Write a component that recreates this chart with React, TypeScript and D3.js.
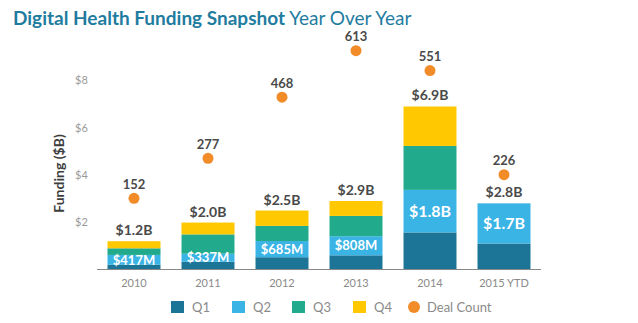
import React from "react";
import * as d3 from "d3";

const years = ["2010", "2011", "2012", "2013", "2014", "2015 YTD"];
const q1 = [0.2, 0.33, 0.52, 0.6, 1.57, 1.1];
const q2 = [0.417, 0.337, 0.685, 0.808, 1.8, 1.7];
const q3 = [0.28, 0.82, 0.64, 0.86, 1.86, 0];
const q4 = [0.3, 0.5, 0.65, 0.63, 1.67, 0];
const totalLabels = ["$1.2B", "$2.0B", "$2.5B", "$2.9B", "$6.9B", "$2.8B"];
const q2Labels = ["$417M", "$337M", "$685M", "$808M", "$1.8B", "$1.7B"];
const dealCounts = [152, 277, 468, 613, 551, 226];
const yTicks = [2, 4, 6, 8];
const seriesNames = ["Q1", "Q2", "Q3", "Q4"];
const colors = ["#1c7597", "#3ab3e5", "#21ab8c", "#ffc800"];
const orange = "#f28c28";

export default function App() {
  const W = 638, H = 323;
  const x = d3.scaleBand<string>().domain(years).range([89, 533]).paddingInner(0.284).paddingOuter(0.142);
  const y = d3.scaleLinear().domain([0, 8]).range([261.5, 72.5]);
  const yd = d3.scaleLinear().domain([0, 613]).range([239, 42.7]);
  const table = years.map((yr, i) => ({ yr, Q1: q1[i], Q2: q2[i], Q3: q3[i], Q4: q4[i] }));
  const stacked = d3.stack<any>().keys(seriesNames)(table);
  const font = "Lato, 'Open Sans', sans-serif";
  const legendItems = [
    { label: "Q1", x: 163, color: colors[0] },
    { label: "Q2", x: 224, color: colors[1] },
    { label: "Q3", x: 284, color: colors[2] },
    { label: "Q4", x: 345, color: colors[3] },
  ];
  return (
    <svg width={W} height={H} style={{ position: "absolute", left: 0, top: 0 }} fontFamily={font}>
      <g transform="translate(8,8)">
        <text x={5} y={17} fontSize={19} fill="#1f7ca0">
          <tspan fontWeight="bold">Digital Health Funding Snapshot</tspan>
          <tspan> Year Over Year</tspan>
        </text>
        <text transform={`translate(56,${165.5}) rotate(-90)`} textAnchor="middle" fontSize={14} fontWeight="bold" fill="#3d3d3d">
          Funding ($B)
        </text>
        {yTicks.map((t) => (
          <text key={t} x={67} y={y(t)} dy="0.35em" fontSize={11} fill="#9a9a9a">${t}</text>
        ))}
        {stacked.map((s, si) => (
          <g key={s.key}>
            {s.map((d, i) => (
              d[1] - d[0] > 0 ? (
                <rect key={i} x={x(years[i])} width={x.bandwidth()} y={y(d[1])} height={y(d[0]) - y(d[1])} fill={colors[si]} />
              ) : null
            ))}
          </g>
        ))}
        <line x1={89} x2={533} y1={261.5} y2={261.5} stroke="#888" strokeWidth={1} />
        {years.map((yr, i) => {
          const cx = (x(yr) as number) + x.bandwidth() / 2;
          const top = stacked[3][i][1];
          const q2mid = (stacked[1][i][0] + stacked[1][i][1]) / 2;
          return (
            <g key={yr}>
              <text x={cx} y={y(top) - 6} textAnchor="middle" fontSize={14} fontWeight="bold" fill="#4a4a4a">{totalLabels[i]}</text>
              <text x={cx} y={y(q2mid)} dy="0.36em" textAnchor="middle" fontSize={i >= 4 ? 16 : 13} fontWeight="bold" fill="#fff">{q2Labels[i]}</text>
              <circle cx={cx} cy={yd(dealCounts[i])} r={5.5} fill={orange} />
              <text x={cx} y={yd(dealCounts[i]) - 9.5} textAnchor="middle" fontSize={13} fontWeight="bold" fill="#4a4a4a">{dealCounts[i]}</text>
              <text x={cx} y={279} textAnchor="middle" fontSize={11} fill="#8a8a8a">{yr}</text>
            </g>
          );
        })}
        {legendItems.map((l) => (
          <g key={l.label}>
            <rect x={l.x} y={293} width={13} height={12} fill={l.color} />
            <text x={l.x + 21} y={299} dy="0.36em" fontSize={13} fill="#8a8a8a">{l.label}</text>
          </g>
        ))}
        <circle cx={406} cy={299} r={6} fill={orange} />
        <text x={419} y={299} dy="0.36em" fontSize={13} fill="#8a8a8a">Deal Count</text>
      </g>
    </svg>
  );
}
